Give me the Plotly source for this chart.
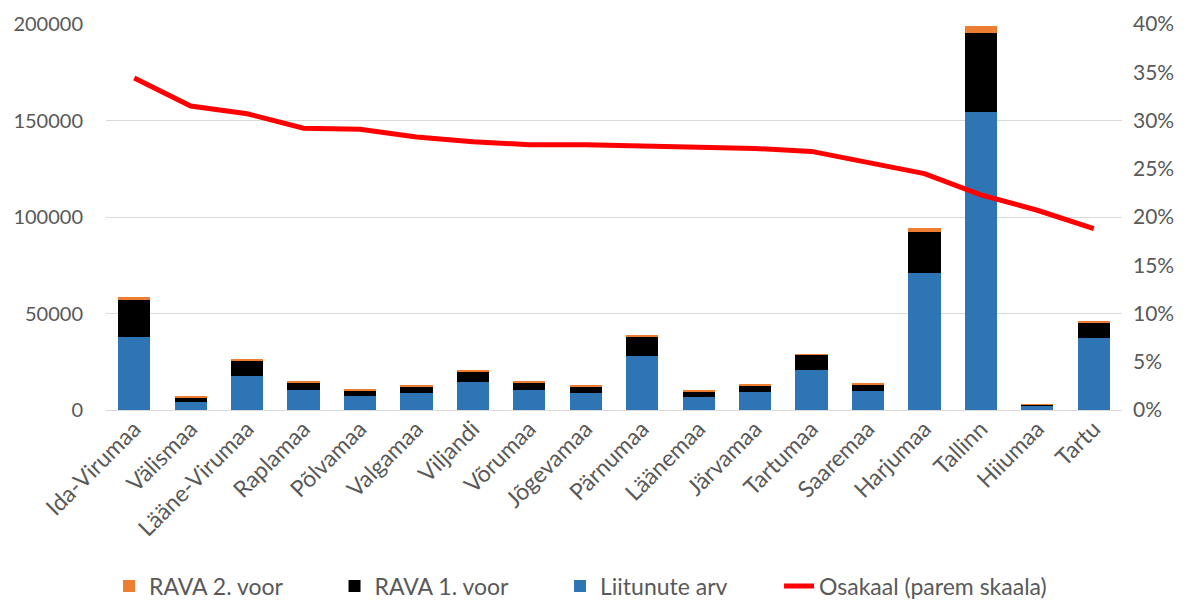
import plotly.graph_objects as go

categories = ["Ida-Virumaa", "Välismaa", "Lääne-Virumaa", "Raplamaa", "Põlvamaa", "Valgamaa",
              "Viljandi", "Võrumaa", "Jõgevamaa", "Pärnumaa", "Läänemaa", "Järvamaa",
              "Tartumaa", "Saaremaa", "Harjumaa", "Tallinn", "Hiiumaa", "Tartu"]
liitunute_arv = [38000, 4300, 17800, 10400, 7300, 8700, 14700, 10200, 9000, 28100, 6700, 9200,
                 20900, 9800, 71100, 154500, 2200, 37300]
rava_1_voor = [19000, 2300, 7600, 4100, 2900, 3400, 5200, 4000, 3100, 10100, 2800, 3300,
               7600, 3300, 21300, 40800, 550, 8100]
rava_2_voor = [1300, 600, 600, 500, 300, 400, 600, 500, 500, 700, 400, 500,
               500, 500, 1700, 3800, 350, 600]
osakaal = [0.344, 0.315, 0.307, 0.292, 0.291, 0.283, 0.278, 0.275, 0.275, 0.274, 0.273, 0.271,
           0.268, 0.256, 0.245, 0.223, 0.207, 0.188]
left_ticks = [0, 50000, 100000, 150000, 200000]
right_ticks = [0, 0.05, 0.10, 0.15, 0.20, 0.25, 0.30, 0.35, 0.40]

FONT = "Lato"
GREY = "#595959"
PAD = "\u00a0" * 8  # spacing between legend entries

fig = go.Figure()
fig.add_trace(go.Bar(x=categories, y=liitunute_arv, name="Liitunute arv" + PAD,
                     marker=dict(color="#2E75B6", line=dict(width=0)), legendrank=3))
fig.add_trace(go.Bar(x=categories, y=rava_1_voor, name="RAVA 1. voor" + PAD,
                     marker=dict(color="#000000", line=dict(width=0)), legendrank=2))
fig.add_trace(go.Bar(x=categories, y=rava_2_voor, name="RAVA 2. voor" + PAD,
                     marker=dict(color="#ED7D31", line=dict(width=0)), legendrank=1))
fig.add_trace(go.Scatter(x=categories, y=osakaal, name="Osakaal (parem skaala)", yaxis="y2",
                         mode="lines", line=dict(color="#FF0000", width=5), legendrank=4))

fig.update_layout(
    width=1181, height=593,
    barmode="stack", bargap=0.43,
    paper_bgcolor="white", plot_bgcolor="white",
    margin=dict(l=98, r=67, t=16, b=191, autoexpand=False),
    font=dict(family=FONT, size=20, color=GREY),
    xaxis=dict(tickangle=-45, showgrid=False, showline=False, ticks="", automargin=False,
               tickfont=dict(size=23, color=GREY)),
    yaxis=dict(range=[0, 200000], tickvals=left_ticks, ticktext=[str(v) for v in left_ticks],
               showgrid=True, gridcolor="#D9D9D9", gridwidth=1, zeroline=True,
               zerolinecolor="#D9D9D9", zerolinewidth=1, showline=False, ticks="",
               automargin=False, ticklabelstandoff=22, tickfont=dict(size=20, color=GREY)),
    yaxis2=dict(range=[0, 0.4], overlaying="y", side="right", tickvals=right_ticks,
                tickformat=".0%", showgrid=False, zeroline=False, showline=False, ticks="",
                automargin=False, ticklabelstandoff=10, tickfont=dict(size=21, color=GREY)),
    legend=dict(orientation="h", x=0.003, xanchor="left", y=-0.512, yanchor="bottom",
                font=dict(size=23, color=GREY), traceorder="normal"),
    showlegend=True,
)

fig.write_html("out.html")
